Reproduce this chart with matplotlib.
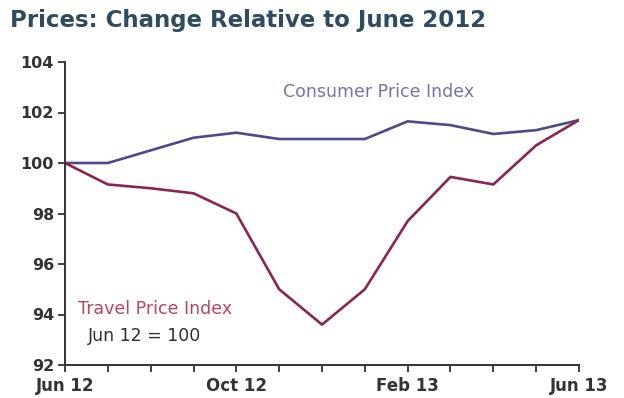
import matplotlib

matplotlib.use("Agg")
import matplotlib.pyplot as plt

# Monthly index values, Jun 2012 = 100
months = ["Jun 12", "Jul 12", "Aug 12", "Sep 12", "Oct 12", "Nov 12", "Dec 12",
          "Jan 13", "Feb 13", "Mar 13", "Apr 13", "May 13", "Jun 13"]
cpi = [100.0, 100.0, 100.5, 101.0, 101.2, 100.95, 100.95,
       100.95, 101.65, 101.5, 101.15, 101.3, 101.7]
travel = [100.0, 99.15, 99.0, 98.8, 98.0, 95.0, 93.6,
          95.0, 97.7, 99.45, 99.15, 100.7, 101.7]
labelled_months = ["Jun 12", "Oct 12", "Feb 13", "Jun 13"]
y_ticks = [92, 94, 96, 98, 100, 102, 104]

plt.rcParams["font.family"] = ["DejaVu Sans"]

fig = plt.figure(figsize=(6.24, 3.98), dpi=100)
ax = fig.add_axes([65 / 624, 1 - 365 / 398, (579 - 65) / 624, (365 - 62) / 398])

x = list(range(len(months)))
ax.plot(x, cpi, color="#4b4b8c", linewidth=1.9, solid_joinstyle="round")
ax.plot(x, travel, color="#8c2452", linewidth=1.9, solid_joinstyle="round")

ax.set_xlim(0, len(months) - 1)
ax.set_ylim(92, 104)
ax.set_yticks(y_ticks)
ax.set_yticklabels([str(v) for v in y_ticks])
ax.set_xticks(x)
ax.set_xticklabels([m if m in labelled_months else "" for m in months])

for side in ("top", "right"):
    ax.spines[side].set_visible(False)
for side in ("left", "bottom"):
    ax.spines[side].set_color("#333333")
    ax.spines[side].set_linewidth(1.4)
ax.tick_params(axis="both", direction="out", length=5, width=1.3,
               color="#333333", labelcolor="#333333")
ax.tick_params(axis="y", pad=3, labelsize=11.5)
ax.tick_params(axis="x", pad=3.5, labelsize=12)
for lbl in ax.get_xticklabels() + ax.get_yticklabels():
    lbl.set_fontweight("bold")

ax.text(5.09, 102.8, "Consumer Price Index", color="#7474ac", fontsize=12.5,
        va="center", ha="left")
ax.text(0.3, 94.2, "Travel Price Index", color="#b8455e", fontsize=12.5,
        va="center", ha="left")
ax.text(0.54, 93.15, "Jun 12 = 100", color="#2e2e2e", fontsize=12.5,
        va="center", ha="left")

fig.text(10 / 624, 1 - 20 / 398, "Prices: Change Relative to June 2012",
         color="#2f4b5f", fontsize=16.5, fontweight="bold",
         va="center", ha="left")

fig.savefig("out.png", dpi=100, facecolor="white")
